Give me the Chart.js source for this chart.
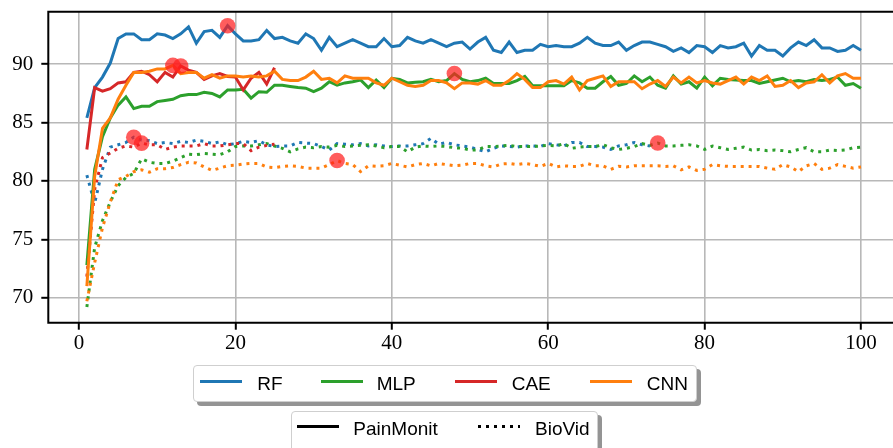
<!DOCTYPE html>
<html>
<head>
<meta charset="utf-8">
<script src="https://cdn.jsdelivr.net/npm/chart.js@4.4.1/dist/chart.umd.min.js"></script>
<style>
  html, body { margin: 0; padding: 0; background: #fff; overflow: hidden; }
  #wrap { position: relative; width: 893px; height: 448px; overflow: hidden; }
  #wrap canvas { position: absolute; left: 0; top: 0; }
  .legend {
    position: absolute; background: #fff; border: 1px solid #cfcfcf; border-radius: 4px;
    box-shadow: 4px 4px 0 rgba(0, 0, 0, 0.42);
    font: 19px "Liberation Sans", Arial, sans-serif; color: #000;
  }
  .legend .txt { position: absolute; white-space: nowrap; line-height: 19px; }
  .legend .sw { position: absolute; width: 42px; height: 3px; }
</style>
</head>
<body>
<div id="wrap">
  <canvas id="accChart" width="893" height="448"></canvas>
  <div class="legend" id="legendModels" style="left:193px; top:365px; width:502px; height:35px;"></div>
  <div class="legend" id="legendSets" style="left:291px; top:411px; width:305px; height:40px;"></div>
</div>
<script>
const models = ['RF', 'MLP', 'CAE', 'CNN'];
const modelColors = ['#1f77b4', '#2ca02c', '#d62728', '#ff7f0e'];
const datasetNames = ['PainMonit', 'BioVid'];
const xTickValues = [0, 20, 40, 60, 80, 100];
const yTickValues = [70, 75, 80, 85, 90];

// accuracy per epoch, PainMonit
const painMonitRF = [
  85.4, 88.0, 88.9, 90.1, 92.2, 92.6, 92.6, 92.1, 92.1, 92.6,
  92.5, 92.2, 92.6, 93.2, 91.8, 92.8, 92.9, 92.3, 93.3, 92.6,
  92.0, 92.0, 92.1, 92.9, 92.2, 92.3, 92.0, 91.8, 92.6, 92.2,
  91.2, 92.3, 91.5, 91.8, 92.1, 91.8, 91.5, 91.5, 92.2, 91.5,
  91.6, 92.3, 92.0, 91.8, 92.1, 91.8, 91.5, 91.8, 91.9, 91.3,
  91.9, 92.3, 91.2, 91.0, 91.9, 91.0, 91.2, 91.2, 91.7, 91.5,
  91.6, 91.5, 91.5, 91.8, 92.3, 91.8, 91.6, 91.6, 91.9, 91.2,
  91.6, 91.9, 91.9, 91.7, 91.5, 91.1, 91.4, 91.0, 91.6, 91.5,
  91.0, 91.6, 91.4, 91.5, 91.8, 90.7, 91.6, 91.2, 91.2, 90.7,
  91.4, 91.9, 91.6, 92.1, 91.4, 91.4, 91.1, 91.2, 91.6, 91.2
];
const painMonitMLP = [
  72.8, 81.0, 83.8, 85.4, 86.5, 87.2, 86.2, 86.4, 86.4, 86.8,
  86.9, 87.0, 87.3, 87.4, 87.4, 87.6, 87.5, 87.2, 87.8, 87.8,
  87.85, 87.1, 87.65, 87.6, 88.2, 88.2, 88.1, 88.0, 87.95, 87.65,
  87.95, 88.5, 88.2, 88.4, 88.5, 88.65, 88.0, 88.65, 88.0, 88.8,
  88.7, 88.4, 88.45, 88.5, 88.7, 88.5, 88.6, 89.2, 88.7, 88.5,
  88.6, 88.8, 88.35, 88.35, 88.35, 88.6, 88.95, 88.15, 88.15, 88.15,
  88.15, 88.15, 88.6, 88.4, 87.95, 87.95, 88.5, 88.95, 88.2, 88.35,
  89.0, 88.5, 88.9, 88.2, 87.95, 89.0, 88.3, 88.5, 87.95, 88.9,
  88.15, 88.8, 88.7, 88.65, 88.6, 88.6, 88.35, 88.5, 88.65, 88.8,
  88.5, 88.6, 88.5, 88.7, 88.6, 88.7, 88.9, 88.2, 88.35, 87.95
];
const painMonitCAE = [
  82.7, 88.0, 87.7, 87.9, 88.4, 88.5, 89.3, 89.4, 89.1, 88.5,
  89.3, 88.9, 89.85, 89.5, 89.3, 88.7, 89.0, 89.2, 88.95, 88.9,
  87.8, 88.8, 89.3, 88.3, 89.7
];
const painMonitCNN = [
  71.0, 80.4, 84.5, 85.4, 87.0, 88.2, 89.3, 89.3, 89.4, 89.6,
  89.6, 89.9, 89.2, 89.3, 89.3, 88.8, 89.1, 88.8, 89.0, 89.0,
  88.9, 89.0, 88.9, 89.0, 89.4, 88.7, 88.6, 88.6, 88.9, 89.4,
  88.7, 88.8, 88.4, 89.0, 88.8, 88.8, 88.8, 88.4, 88.2, 88.8,
  88.5, 88.2, 88.1, 88.2, 88.6, 88.6, 88.4, 87.9, 88.4, 88.4,
  88.3, 88.6, 88.2, 88.2, 88.6, 89.2, 88.7, 88.0, 88.0, 88.5,
  88.6, 88.3, 88.9, 87.8, 88.6, 88.8, 89.0, 88.1, 88.5, 88.5,
  88.5, 87.9, 88.3, 88.6, 88.1, 88.9, 88.4, 88.9, 88.4, 88.6,
  88.4, 88.3, 88.6, 88.9, 88.3, 88.9, 88.6, 89.0, 88.1, 88.2,
  88.6, 88.0, 88.4, 88.5, 89.1, 88.4, 89.0, 89.2, 88.8, 88.8
];

// accuracy per epoch, BioVid
const bioVidRF = [
  80.5, 78.1, 81.0, 82.9, 83.1, 83.3, 83.75, 83.5, 83.45, 83.2,
  83.3, 83.2, 83.4, 83.3, 83.5, 83.4, 83.2, 83.35, 83.1, 83.2,
  83.4, 83.3, 83.45, 83.1, 82.95, 83.0, 83.0, 83.3, 83.25, 83.2,
  82.95, 82.65, 83.2, 83.15, 83.1, 83.2, 83.0, 83.1, 83.0, 82.95,
  83.0, 83.0, 83.1, 83.2, 83.65, 83.15, 83.3, 83.1, 83.0, 82.9,
  82.7, 82.5, 82.8, 83.0, 82.95, 82.9, 83.0, 83.0, 82.95, 83.2,
  83.1, 83.0, 83.3, 83.3, 82.95, 82.95, 82.9, 82.7, 83.0, 83.1,
  83.3, 83.1, 83.0
];
const bioVidMLP = [
  69.2, 74.3, 76.6, 78.2, 79.6, 80.3, 80.65, 81.9, 81.6, 81.5,
  81.5, 81.7, 82.0, 82.3, 82.25, 82.35, 82.3, 82.25, 82.5, 82.95,
  83.0, 83.0, 83.1, 83.2, 83.0, 82.8, 82.5, 82.75, 82.9, 82.85,
  82.95, 82.9, 83.05, 82.95, 83.0, 83.05, 83.1, 83.0, 82.85, 82.95,
  82.95, 82.5, 82.9, 83.0, 82.95, 83.0, 82.95, 82.85, 82.8, 82.65,
  82.65, 82.95, 82.95, 83.0, 83.05, 82.95, 82.95, 82.95, 83.0, 83.05,
  83.0, 83.2, 82.8, 82.9, 82.95, 82.95, 83.1, 82.85, 82.7, 82.8,
  82.95, 83.2, 83.05, 83.25, 83.0, 83.0, 83.05, 83.1, 83.0, 82.7,
  83.0, 82.85, 82.7, 82.8, 82.9, 82.65, 82.7, 82.6, 82.65, 82.6,
  82.5, 82.7, 82.85, 82.5, 82.5, 82.65, 82.6, 82.65, 82.85, 82.9
];
const bioVidCAE = [
  71.8, 79.3, 82.0, 82.4, 82.8, 83.0, 82.9, 83.24, 83.1, 83.1,
  82.7, 82.9, 83.0, 83.0, 83.0, 83.2, 83.0, 83.0, 83.1, 83.2,
  83.2, 82.6, 82.9, 83.05, 83.15
];
const bioVidCNN = [
  69.7, 73.0, 76.0, 78.2, 80.1, 80.4, 80.8, 80.95, 80.75, 81.05,
  81.05, 81.15, 81.4, 81.6, 81.55, 81.2, 80.9, 81.1, 81.3, 81.35,
  81.45, 81.5, 81.5, 81.2, 81.15, 81.25, 81.3, 81.25, 81.1, 81.1,
  81.1, 81.4, 81.75, 81.5, 81.4, 80.8, 81.3, 81.25, 81.3, 81.5,
  81.35, 81.2, 81.4, 81.5, 81.3, 81.5, 81.4, 81.3, 81.35, 81.5,
  81.5, 81.3, 81.2, 81.45, 81.5, 81.4, 81.5, 81.4, 81.25, 81.5,
  81.2, 81.3, 81.25, 81.25, 81.5, 81.3, 81.3, 81.0, 81.25, 81.2,
  81.3, 81.3, 81.3, 81.3, 81.25, 81.3, 80.95, 81.2, 80.9, 81.0,
  81.4, 81.3, 81.25, 81.25, 81.25, 81.25, 81.25, 81.1, 81.0, 81.4,
  81.2, 80.8, 81.3, 81.5, 81.0, 81.1, 81.4, 81.25, 81.1, 81.2
];

const painMonitRuns = [painMonitRF, painMonitMLP, painMonitCAE, painMonitCNN];
const bioVidRuns = [bioVidRF, bioVidMLP, bioVidCAE, bioVidCNN];

const LINE_W = 3;
const toPoints = vals => vals.map((v, i) => ({ x: i + 1, y: v }));

const datasets = [];
models.forEach((m, i) => {
  [painMonitRuns[i], bioVidRuns[i]].forEach((vals, k) => {
    datasets.push({
      label: m + ' ' + datasetNames[k],
      data: toPoints(vals),
      borderColor: modelColors[i],
      borderWidth: LINE_W,
      borderDash: k === 1 ? [LINE_W, 4.9] : [],
      borderCapStyle: 'butt',
      pointRadius: 0,
      tension: 0,
      fill: false
    });
  });
});

// best epoch of every run gets a red marker
const bestPoints = [];
models.forEach((m, i) => {
  [painMonitRuns[i], bioVidRuns[i]].forEach(vals => {
    let best = 0;
    vals.forEach((v, j) => { if (v > vals[best]) best = j; });
    bestPoints.push({ x: best + 1, y: vals[best] });
  });
});
datasets.push({
  label: 'best',
  data: bestPoints,
  showLine: false,
  pointRadius: 7.8,
  pointHoverRadius: 7.8,
  pointBackgroundColor: 'rgba(255, 30, 30, 0.72)',
  pointBorderWidth: 0
});

// matplotlib-style draw order: later datasets on top
datasets.forEach((d, i) => { d.order = datasets.length - i; });

// left, top and bottom spines (the right one falls past the canvas edge)
const framePlugin = {
  id: 'frame',
  afterDatasetsDraw(chart) {
    const { ctx, chartArea: a } = chart;
    ctx.save();
    ctx.strokeStyle = '#000';
    ctx.lineWidth = 2;
    ctx.beginPath();
    ctx.moveTo(a.right + 2, a.top);
    ctx.lineTo(a.left, a.top);
    ctx.lineTo(a.left, a.bottom);
    ctx.lineTo(a.right + 2, a.bottom);
    ctx.stroke();
    ctx.restore();
  }
};

const tickFont = { family: '"Liberation Serif", "Times New Roman", serif', size: 21 };
const gridOpts = {
  color: '#b8b8b8',
  lineWidth: 1.6,
  drawTicks: true,
  tickLength: 7,
  tickColor: '#000',
  tickWidth: 2
};

new Chart(document.getElementById('accChart').getContext('2d'), {
  type: 'line',
  data: { datasets },
  options: {
    responsive: false,
    devicePixelRatio: 1,
    animation: false,
    events: [],
    layout: { autoPadding: false, padding: { top: 11.7, right: 0, bottom: 0, left: 0 } },
    plugins: { legend: { display: false }, tooltip: { enabled: false } },
    scales: {
      x: {
        type: 'linear',
        min: -3.93,
        max: 104.09,
        grid: gridOpts,
        border: { display: false },
        ticks: { color: '#000', font: tickFont, padding: 1, maxRotation: 0, callback: v => String(v) },
        afterBuildTicks: s => { s.ticks = xTickValues.map(v => ({ value: v })); },
        afterFit: s => { s.height = 125.3; s.paddingLeft = 0; s.paddingRight = 0; }
      },
      y: {
        type: 'linear',
        min: 67.86,
        max: 94.5,
        grid: gridOpts,
        border: { display: false },
        ticks: { color: '#000', font: tickFont, padding: 8, callback: v => String(v) },
        afterBuildTicks: s => { s.ticks = yTickValues.map(v => ({ value: v })); },
        afterFit: s => { s.width = 48.3; s.paddingTop = 0; s.paddingBottom = 0; }
      }
    }
  },
  plugins: [framePlugin]
});

// legends drawn as html boxes
function addItem(box, label, swLeft, txtLeft, swTop, swStyle) {
  const sw = document.createElement('div');
  sw.className = 'sw';
  sw.style.left = swLeft + 'px';
  sw.style.top = swTop + 'px';
  sw.style.background = swStyle;
  box.appendChild(sw);
  const t = document.createElement('div');
  t.className = 'txt';
  t.style.left = txtLeft + 'px';
  t.style.top = (swTop - 5.8) + 'px';
  t.textContent = label;
  box.appendChild(t);
}

const modelBox = document.getElementById('legendModels');
const modelOffsets = [[6, 63.3], [126.7, 182.7], [261, 317.7], [396, 452.7]];
models.forEach((m, i) => {
  addItem(modelBox, m, modelOffsets[i][0], modelOffsets[i][1], 14.2, modelColors[i]);
});

const setBox = document.getElementById('legendSets');
const setOffsets = [[5.3, 61.3], [186.3, 243]];
const setStyles = [
  '#000',
  'repeating-linear-gradient(to right, #000 0 3px, transparent 3px 8px)'
];
datasetNames.forEach((n, i) => {
  addItem(setBox, n, setOffsets[i][0], setOffsets[i][1], 13.2, setStyles[i]);
});
</script>
</body>
</html>
